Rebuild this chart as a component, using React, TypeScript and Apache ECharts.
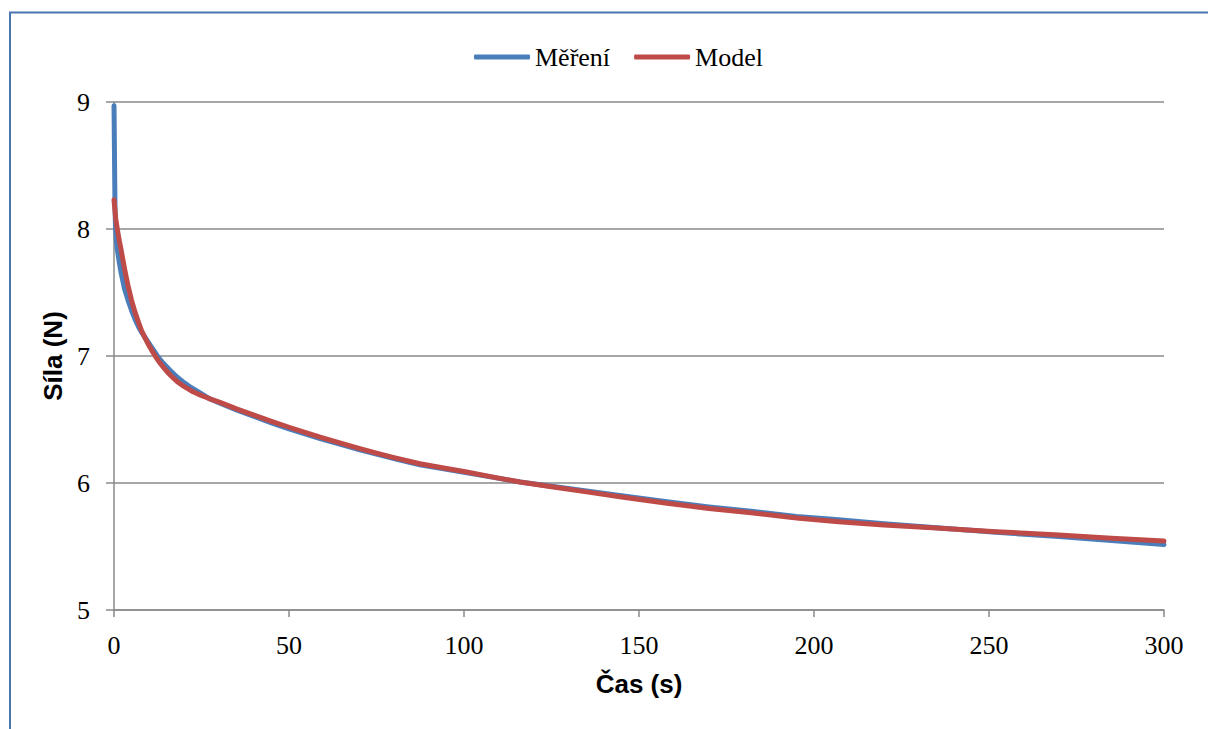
import React, { useEffect, useRef } from "react";
import * as echarts from "echarts";

const xTicks = [0, 50, 100, 150, 200, 250, 300];
const yTicks = [5, 6, 7, 8, 9];

const mereniTime = [0, 0.05, 0.1, 0.2, 0.3, 0.45, 0.7, 1, 1.5, 2, 3, 4, 5, 6, 7, 7.8, 9, 10, 11, 12.4, 14, 16, 18, 20, 22, 24, 27, 30.3, 35, 40, 45, 50, 58.9, 65, 70, 75, 80, 87.4, 95, 100, 108, 116, 125, 135, 145, 158, 170, 182, 195, 207, 220, 235, 252, 270, 285, 300];
const mereniForce = [8.97, 8.85, 8.7, 8.4, 8.15, 8.0, 7.9, 7.83, 7.74, 7.66, 7.53, 7.44, 7.36, 7.29, 7.23, 7.19, 7.14, 7.1, 7.058, 7.0, 6.945, 6.888, 6.835, 6.79, 6.752, 6.72, 6.668, 6.628, 6.576, 6.524, 6.474, 6.427, 6.35, 6.302, 6.264, 6.227, 6.192, 6.144, 6.107, 6.084, 6.046, 6.008, 5.974, 5.937, 5.899, 5.852, 5.812, 5.777, 5.737, 5.71, 5.68, 5.648, 5.612, 5.578, 5.548, 5.515];

const modelTime = [0, 0.2, 0.5, 1, 1.5, 2, 3, 3.5, 4, 5, 6, 7, 7.8, 9, 10, 11.1, 12, 13, 14, 15, 16, 17, 18, 20, 22, 24, 27, 30.3, 35, 40, 45, 50, 55, 58.9, 65, 70, 75, 80, 87.4, 95, 100, 108, 116, 125, 135, 145, 158, 170, 182, 195, 207, 220, 235, 252, 270, 285, 300];
const modelForce = [8.23, 8.17, 8.08, 7.99, 7.91, 7.84, 7.69, 7.62, 7.555, 7.44, 7.345, 7.265, 7.205, 7.135, 7.082, 7.03, 6.99, 6.95, 6.915, 6.882, 6.852, 6.825, 6.8, 6.76, 6.727, 6.7, 6.667, 6.635, 6.584, 6.534, 6.485, 6.439, 6.395, 6.362, 6.312, 6.273, 6.235, 6.2, 6.152, 6.114, 6.09, 6.048, 6.008, 5.97, 5.93, 5.89, 5.84, 5.8, 5.765, 5.725, 5.695, 5.67, 5.645, 5.617, 5.59, 5.565, 5.543];

const seriesNames = ["Měření", "Model"];

export default function App() {
  const ref = useRef<HTMLDivElement>(null);
  useEffect(() => {
    if (!ref.current) return;
    const chart = echarts.init(ref.current, undefined, { renderer: "svg" });
    const serif = "'Liberation Serif', serif";
    const sans = "'Liberation Sans', sans-serif";
    const gridColor = "#8a8a8a";
    const borderColor = "#4a76b0";
    chart.setOption({
      animation: false,
      backgroundColor: "#ffffff",
      graphic: [
        {
          type: "line",
          shape: { x1: 10, y1: 12.5, x2: 10, y2: 729 },
          style: { stroke: borderColor, lineWidth: 2 },
          silent: true,
        },
        {
          type: "line",
          shape: { x1: 9, y1: 12.5, x2: 1208, y2: 12.5 },
          style: { stroke: borderColor, lineWidth: 2 },
          silent: true,
        },
      ],
      legend: {
        left: 469,
        top: 39,
        itemWidth: 56,
        itemHeight: 5,
        itemGap: 24,
        icon: "roundRect",
        textStyle: { fontFamily: serif, fontSize: 26, color: "#000", padding: [0, 0, 0, 0] },
        data: seriesNames,
      },
      grid: { left: 114, right: 44, top: 102, bottom: 119 },
      xAxis: {
        type: "value",
        min: 0,
        max: 300,
        interval: 50,
        name: "Čas (s)",
        nameLocation: "middle",
        nameGap: 61,
        nameTextStyle: { fontFamily: sans, fontWeight: "bold", fontSize: 26, color: "#000" },
        axisLine: { lineStyle: { color: gridColor, width: 1.5 } },
        axisTick: { show: true, length: 7, lineStyle: { color: gridColor, width: 1.5 } },
        axisLabel: {
          margin: 22,
          fontFamily: serif,
          fontSize: 26,
          color: "#000",
          formatter: (v: number) => (xTicks.includes(v) ? String(v) : ""),
        },
        splitLine: { show: false },
      },
      yAxis: {
        type: "value",
        min: 5,
        max: 9,
        interval: 1,
        name: "Síla (N)",
        nameLocation: "middle",
        nameGap: 42,
        nameRotate: 90,
        nameTextStyle: { fontFamily: sans, fontWeight: "bold", fontSize: 26, color: "#000" },
        axisLine: { show: true, lineStyle: { color: gridColor, width: 1.5 } },
        axisTick: { show: true, length: 8, lineStyle: { color: gridColor, width: 1.5 } },
        axisLabel: {
          margin: 24,
          fontFamily: serif,
          fontSize: 26,
          color: "#000",
          formatter: (v: number) => (yTicks.includes(v) ? String(v) : ""),
        },
        splitLine: { show: true, lineStyle: { color: gridColor, width: 1.5 } },
      },
      series: [
        {
          name: seriesNames[0],
          type: "line",
          data: mereniTime.map((t, i) => [t, mereniForce[i]]),
          showSymbol: false,
          symbol: "none",
          smooth: false,
          lineStyle: { color: "#4a7ebb", width: 5, cap: "round", join: "round" },
          itemStyle: { color: "#4a7ebb" },
        },
        {
          name: seriesNames[1],
          type: "line",
          data: modelTime.map((t, i) => [t, modelForce[i]]),
          showSymbol: false,
          symbol: "none",
          smooth: false,
          lineStyle: { color: "#be4b48", width: 5, cap: "round", join: "round" },
          itemStyle: { color: "#be4b48" },
        },
      ],
    });
    return () => chart.dispose();
  }, []);
  return (
    <div
      ref={ref}
      style={{ position: "absolute", left: 0, top: 0, width: 1208, height: 729, background: "#fff" }}
    />
  );
}
